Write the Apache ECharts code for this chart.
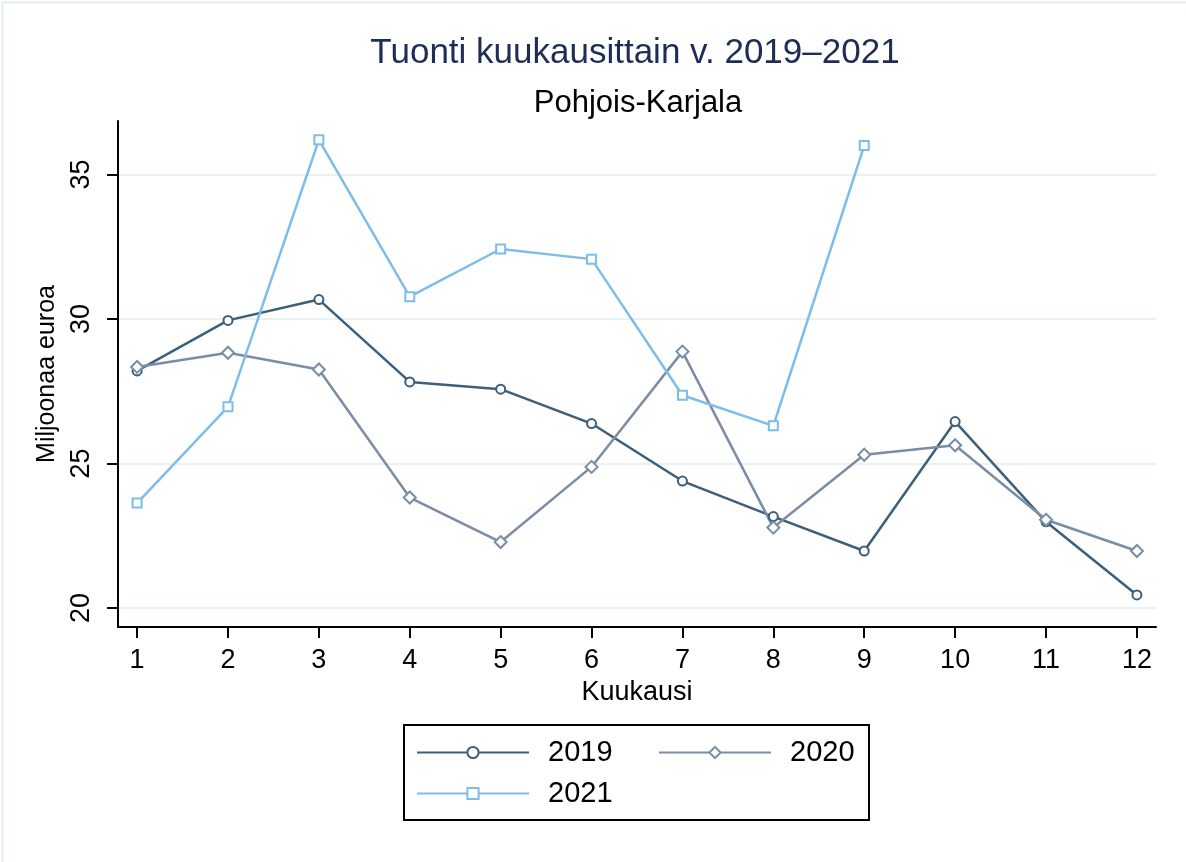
<!DOCTYPE html>
<html>
<head>
<meta charset="utf-8">
<script src="https://cdn.jsdelivr.net/npm/echarts@6/dist/echarts.min.js"></script>
<style>html,body{margin:0;padding:0;background:#fff}#c{width:1186px;height:862px}</style>
</head>
<body>
<div id="c"></div>
<script>
const months = [1,2,3,4,5,6,7,8,9,10,11,12];
const v2019 = [28.20, 29.95, 30.67, 27.82, 27.57, 26.38, 24.39, 23.16, 21.97, 26.45, 22.98, 20.45];
const v2020 = [28.34, 28.83, 28.25, 23.82, 22.28, 24.88, 28.87, 22.78, 25.30, 25.63, 23.05, 21.97];
const v2021 = [23.63, 26.96, 36.20, 30.77, 32.42, 32.07, 27.36, 26.30, 36.00];
const yTicks = [20, 25, 30, 35];
const xTicks = months;

const FONT = '"Liberation Sans", Arial, sans-serif';
const c19 = '#3c5f7b', c20 = '#7a8da5', c21 = '#7dbde8';

function pairs(vals){ return vals.map((v,i)=>[months[i], v]); }
function mkSeries(name, vals, color, sym, size){
  return {
    name, type:'line', data: pairs(vals), color,
    symbol: sym, symbolSize: size,
    lineStyle:{color, width:2.5},
    itemStyle:{color:'#fff', borderColor:color, borderWidth:2},
    emphasis:{disabled:true}, animation:false, z: 3
  };
}
function mkLegend(name, left, top){
  return {
    data:[name], left, top, orient:'horizontal',
    itemWidth:112, itemHeight:14,
    textStyle:{fontFamily:FONT, fontSize:29, color:'#000', padding:[0,0,0,14]},
    selectedMode:false
  };
}

const chart = echarts.init(document.getElementById('c'), null, {renderer:'canvas'});
chart.setOption({
  backgroundColor:'#fff',
  animation:false,
  title:[
    {text:'Tuonti kuukausittain v. 2019–2021', left:630, top:31, textAlign:'center',
     textStyle:{fontFamily:FONT, fontSize:35, fontWeight:'normal', color:'#1e2d55'}},
    {text:'Pohjois-Karjala', left:633, top:83, textAlign:'center',
     textStyle:{fontFamily:FONT, fontSize:31, fontWeight:'normal', color:'#000'}}
  ],
  grid:{left:118, right:30, top:121, bottom:235, containLabel:false},
  xAxis:{
    type:'value', min:0.79, max:12.21,
    name:'Kuukausi', nameLocation:'middle', nameGap:50,
    nameTextStyle:{fontFamily:FONT, fontSize:27, color:'#000'},
    axisLine:{show:true, onZero:false, lineStyle:{color:'#000', width:2}},
    axisTick:{show:true, customValues:xTicks, length:11, lineStyle:{color:'#000', width:2}},
    axisLabel:{customValues:xTicks, fontFamily:FONT, fontSize:27, color:'#000', margin:20},
    splitLine:{show:false}
  },
  yAxis:{
    type:'value', min:19.34, max:36.85,
    name:'Miljoonaa euroa', nameLocation:'middle', nameGap:55, nameRotate:90,
    nameTextStyle:{fontFamily:FONT, fontSize:25, color:'#000'},
    axisLine:{show:true, onZero:false, lineStyle:{color:'#000', width:2}},
    axisTick:{show:true, customValues:yTicks, length:11, lineStyle:{color:'#000', width:2}},
    axisLabel:{customValues:yTicks, rotate:90, fontFamily:FONT, fontSize:27, color:'#000', margin:23},
    splitLine:{show:true, lineStyle:{color:'#e8f1f4', width:2}}
  },
  legend:[
    mkLegend('2019', 411, 733),
    mkLegend('2020', 653, 733),
    mkLegend('2021', 411, 774)
  ],
  graphic:[
    {type:'rect', left:0, top:0, shape:{x:0,y:0,width:1185,height:861}, style:{fill:'none', stroke:'#e4edf1', lineWidth:2}, silent:true},
    {type:'rect', shape:{x:404,y:725,width:465,height:95}, style:{fill:'none', stroke:'#000', lineWidth:2}, silent:true, z:-1}
  ],
  series:[
    mkSeries('2019', v2019, c19, 'circle', 9),
    mkSeries('2020', v2020, c20, 'diamond', 12),
    mkSeries('2021', v2021, c21, 'rect', 9)
  ]
});
</script>
</body>
</html>
